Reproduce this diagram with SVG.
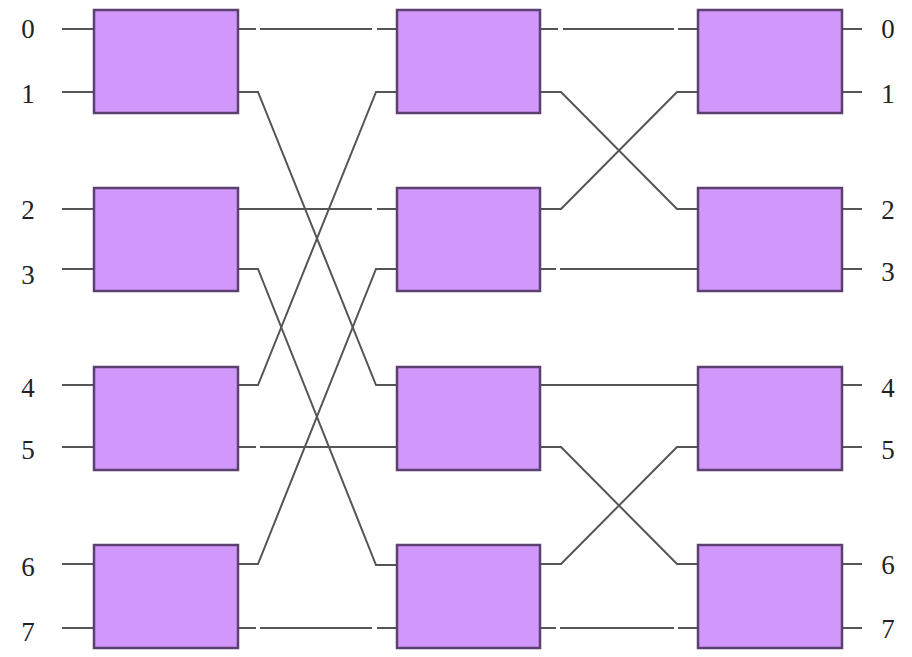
<svg xmlns="http://www.w3.org/2000/svg" width="912" height="657" viewBox="0 0 912 657">
<style>
.box{fill:#d297fb;stroke:#5b4070;stroke-width:2.5}
.w{fill:none;stroke:#555;stroke-width:2}
.lbl{font-family:'Liberation Serif','Times New Roman',serif;font-size:27px;fill:#222;text-anchor:middle}
</style>
<rect width="912" height="657" fill="#fff"/>
<g id="labels-in">
<text class="lbl" x="28" y="38">0</text>
<text class="lbl" x="28" y="103">1</text>
<text class="lbl" x="28" y="219">2</text>
<text class="lbl" x="28" y="284">3</text>
<text class="lbl" x="28" y="397">4</text>
<text class="lbl" x="28" y="459">5</text>
<text class="lbl" x="28" y="576">6</text>
<text class="lbl" x="28" y="641">7</text>
</g>
<g id="labels-out">
<text class="lbl" x="888" y="38">0</text>
<text class="lbl" x="888" y="103">1</text>
<text class="lbl" x="888" y="219">2</text>
<text class="lbl" x="888" y="281">3</text>
<text class="lbl" x="888" y="397">4</text>
<text class="lbl" x="888" y="459">5</text>
<text class="lbl" x="888" y="574">6</text>
<text class="lbl" x="888" y="638">7</text>
</g>
<g id="connectors">
<path class="w" d="M62 29H93M62 92H93M62 209H93M62 269H93M62 385H93M62 447H93M62 564H93M62 628H93"/>
<path class="w" d="M843 29H862M843 92H862M843 209H862M843 269H862M843 385H862M843 447H862M843 564H862M843 628H862"/>
<path class="w" d="M238 29H256M260 29H372M377 29H397"/>
<path class="w" d="M238 92H258L376 385H397"/>
<path class="w" d="M238 209H372M377 209H397"/>
<path class="w" d="M238 269H258L376 565H397"/>
<path class="w" d="M238 385H258L376 92H397"/>
<path class="w" d="M238 447H256M260 447H397"/>
<path class="w" d="M238 564H258L376 269H397"/>
<path class="w" d="M238 628H256M260 628H372M377 628H397"/>
<path class="w" d="M540 29H558M563 29H674M678 29H698"/>
<path class="w" d="M540 92H561L677 209H698"/>
<path class="w" d="M540 209H561L677 92H698"/>
<path class="w" d="M540 269H556M560 269H698"/>
<path class="w" d="M540 385H698"/>
<path class="w" d="M540 447H561L677 564H698"/>
<path class="w" d="M540 564H561L677 447H698"/>
<path class="w" d="M540 628H556M560 628H674M678 628H698"/>
</g>
<g id="n1a"><rect class="box" x="94" y="10" width="144" height="103"/></g>
<g id="n1b"><rect class="box" x="94" y="188" width="144" height="103"/></g>
<g id="n1c"><rect class="box" x="94" y="367" width="144" height="103"/></g>
<g id="n1d"><rect class="box" x="94" y="545" width="144" height="103"/></g>
<g id="n2a"><rect class="box" x="397" y="10" width="143" height="103"/></g>
<g id="n2b"><rect class="box" x="397" y="188" width="143" height="103"/></g>
<g id="n2c"><rect class="box" x="397" y="367" width="143" height="103"/></g>
<g id="n2d"><rect class="box" x="397" y="545" width="143" height="103"/></g>
<g id="n3a"><rect class="box" x="698" y="10" width="144" height="103"/></g>
<g id="n3b"><rect class="box" x="698" y="188" width="144" height="103"/></g>
<g id="n3c"><rect class="box" x="698" y="367" width="144" height="103"/></g>
<g id="n3d"><rect class="box" x="698" y="545" width="144" height="103"/></g>
</svg>
